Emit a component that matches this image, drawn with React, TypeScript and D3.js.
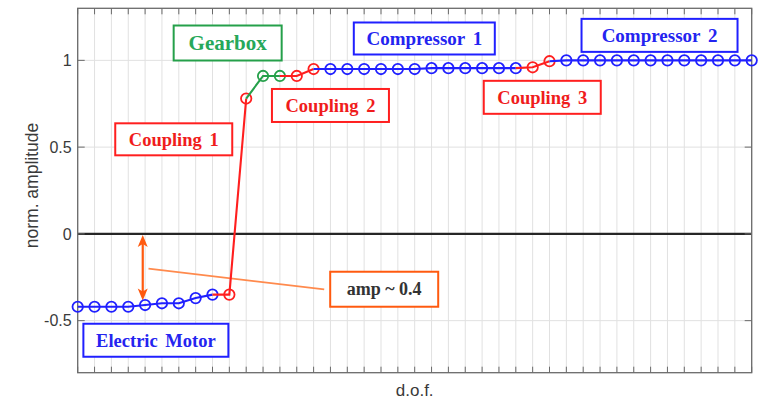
import React from "react";
import * as d3 from "d3";

// Normalised mode-shape amplitude per degree of freedom along the drive train
const amplitude = [
  -0.42, -0.42, -0.42, -0.42, -0.41, -0.4, -0.4, -0.37, -0.35, -0.35,
  0.78, 0.91, 0.91, 0.91, 0.95, 0.95, 0.95, 0.95, 0.95, 0.95, 0.95,
  0.955, 0.955, 0.955, 0.955, 0.955, 0.955, 0.96, 0.995,
  1.0, 1.0, 1.0, 1.0, 1.0, 1.0, 1.0, 1.0, 1.0, 1.0, 1.0, 1.0,
];

// Machine components: name, first and last d.o.f. they own
const componentNames = ["Electric Motor", "Coupling 1", "Gearbox", "Coupling 2", "Compressor 1", "Coupling 3", "Compressor 2"];
const componentFirst = [0, 9, 11, 13, 15, 27, 29];
const componentLast = [8, 10, 12, 14, 26, 28, 40];
const componentKind = ["machine", "coupling", "gear", "coupling", "machine", "coupling", "machine"];

const yTicks = [-0.5, 0, 0.5, 1];
const yTickLabels = ["-0.5", "0", "0.5", "1"];
const ampEstimate = 0.39;
const ampLabel = "amp ~ 0.4";

const W = 758;
const H = 401;
const plot = { left: 77.7, right: 751.7, top: 8.3, bottom: 372.7 };

const kindColor: Record<string, string> = {
  machine: "#2020ff",
  coupling: "#ff1f1f",
  gear: "#25a04a",
};
const kindText: Record<string, string> = {
  machine: "#2424f0",
  coupling: "#f01c1c",
  gear: "#26a85a",
};
const orange = "#ff5a0f";

// Label boxes placed in data coordinates (box centre) with their size
const callouts = [
  { name: "Gearbox", cx: 8.9, cy: 1.1, w: 108, h: 35, fs: 21 },
  { name: "Coupling 1", cx: 5.7, cy: 0.545, w: 117, h: 32, fs: 18.5 },
  { name: "Coupling 2", cx: 15.0, cy: 0.74, w: 117, h: 33, fs: 18.5 },
  { name: "Compressor 1", cx: 20.57, cy: 1.126, w: 141, h: 32, fs: 19 },
  { name: "Coupling 3", cx: 27.57, cy: 0.787, w: 117, h: 33, fs: 18.5 },
  { name: "Compressor 2", cx: 34.53, cy: 1.144, w: 156, h: 33, fs: 19 },
  { name: "Electric Motor", cx: 4.64, cy: -0.613, w: 145, h: 33, fs: 18.5 },
];

export default function App() {
  const x = d3.scaleLinear().domain([0, 40]).range([plot.left, plot.right]);
  const y = d3.scaleLinear().domain([-0.8, 1.3]).range([plot.bottom, plot.top]);
  const xGrid = d3.range(0, 41);

  const line = d3
    .line<number>()
    .x((i) => x(i))
    .y((i) => y(amplitude[i]));

  const series = componentNames.map((name, k) => {
    const start = k === 0 ? componentFirst[k] : componentLast[k - 1];
    const lineIdx = d3.range(start, componentLast[k] + 1);
    const markIdx = d3.range(componentFirst[k], componentLast[k] + 1);
    return { name, color: kindColor[componentKind[k]], lineIdx, markIdx };
  });

  const arrowX = x(3.86);
  const arrowTop = y(0);
  const arrowBot = y(-ampEstimate);
  const head = (tipY: number, dir: number) =>
    `M${arrowX},${tipY} L${arrowX - 5},${tipY + dir * 12} L${arrowX},${tipY + dir * 9} L${arrowX + 5},${tipY + dir * 12} Z`;

  const ampBox = { cx: 18.19, cy: -0.319, w: 108, h: 35 };
  const ampBoxLeft = x(ampBox.cx) - ampBox.w / 2;

  const sans = "'Liberation Sans', Arial, Helvetica, sans-serif";
  const serif = "'Liberation Serif', 'Times New Roman', serif";

  return (
    <svg width={W} height={H} style={{ position: "absolute", left: 0, top: 0, background: "#fff" }}>
      <rect x={0} y={0} width={W} height={H} fill="#fff" />
      {/* grid */}
      <g stroke="#e1e1e1" strokeWidth={1}>
        {xGrid.map((i) => (
          <line key={`gx${i}`} x1={x(i)} x2={x(i)} y1={plot.top} y2={plot.bottom} />
        ))}
        {yTicks.filter((t) => t !== 0).map((t) => (
          <line key={`gy${t}`} x1={plot.left} x2={plot.right} y1={y(t)} y2={y(t)} />
        ))}
      </g>
      {/* zero line */}
      <line x1={plot.left} x2={plot.right} y1={y(0)} y2={y(0)} stroke="#262626" strokeWidth={2.4} />

      {/* ticks */}
      <g stroke="#6a6a6a" strokeWidth={1}>
        {xGrid.map((i) => (
          <g key={`tx${i}`}>
            <line x1={x(i)} x2={x(i)} y1={plot.top} y2={plot.top + 6} />
            <line x1={x(i)} x2={x(i)} y1={plot.bottom} y2={plot.bottom - 6} />
          </g>
        ))}
        {yTicks.map((t) => (
          <g key={`ty${t}`}>
            <line x1={plot.left} x2={plot.left + 7} y1={y(t)} y2={y(t)} />
            <line x1={plot.right} x2={plot.right - 7} y1={y(t)} y2={y(t)} />
          </g>
        ))}
      </g>
      <rect
        x={plot.left}
        y={plot.top}
        width={plot.right - plot.left}
        height={plot.bottom - plot.top}
        fill="none"
        stroke="#6a6a6a"
        strokeWidth={1.3}
      />

      {/* tick labels */}
      <g fontFamily={sans} fontSize={16} fill="#3a3a3a" textAnchor="end">
        {yTicks.map((t, i) => (
          <text key={`yl${t}`} x={plot.left - 6} y={y(t)} dy="0.36em">
            {yTickLabels[i]}
          </text>
        ))}
      </g>
      <text
        x={(plot.left + plot.right) / 2}
        y={396}
        fontFamily={sans}
        fontSize={17}
        fill="#3a3a3a"
        textAnchor="middle"
      >
        d.o.f.
      </text>
      <text
        transform={`translate(31.5,${(plot.top + plot.bottom) / 2 - 5}) rotate(-90)`}
        dy="0.35em"
        fontFamily={sans}
        fontSize={17.5}
        fill="#3a3a3a"
        textAnchor="middle"
      >
        norm. amplitude
      </text>

      {/* amplitude arrow and leader */}
      <line x1={x(4.2)} y1={y(-0.2)} x2={ampBoxLeft - 6} y2={y(-0.32)} stroke="#ff8a4d" strokeWidth={1.8} />
      <line x1={arrowX} x2={arrowX} y1={arrowTop + 6} y2={arrowBot - 6} stroke={orange} strokeWidth={2.2} />
      <path d={head(arrowTop + 1, 1)} fill={orange} />
      <path d={head(arrowBot - 1, -1)} fill={orange} />

      {/* mode shape */}
      {series.map((s) => (
        <g key={s.name}>
          <path d={line(s.lineIdx) ?? ""} fill="none" stroke={s.color} strokeWidth={2.1} />
          {s.markIdx.map((i) => (
            <circle key={i} cx={x(i)} cy={y(amplitude[i])} r={5.2} fill="none" stroke={s.color} strokeWidth={1.8} />
          ))}
        </g>
      ))}

      {/* component labels */}
      {callouts.map((c) => {
        const k = componentNames.indexOf(c.name);
        const kind = componentKind[k];
        const cx = x(c.cx);
        const cy = y(c.cy);
        return (
          <g key={c.name}>
            <rect
              x={cx - c.w / 2}
              y={cy - c.h / 2}
              width={c.w}
              height={c.h}
              fill="#fff"
              stroke={kindColor[kind]}
              strokeWidth={2}
            />
            <text
              x={cx}
              y={cy}
              dy="0.34em"
              textAnchor="middle"
              fontFamily={serif}
              fontWeight="bold"
              fontSize={c.fs}
              fill={kindText[kind]}
              style={{ whiteSpace: "pre", wordSpacing: "3px" }}
            >
              {c.name}
            </text>
          </g>
        );
      })}

      {/* amplitude label */}
      <rect
        x={ampBoxLeft}
        y={y(ampBox.cy) - ampBox.h / 2}
        width={ampBox.w}
        height={ampBox.h}
        fill="#fff"
        stroke={orange}
        strokeWidth={2}
      />
      <text
        x={x(ampBox.cx)}
        y={y(ampBox.cy)}
        dy="0.34em"
        textAnchor="middle"
        fontFamily={serif}
        fontWeight="bold"
        fontSize={18}
        fill="#333"
      >
        {ampLabel}
      </text>
    </svg>
  );
}
